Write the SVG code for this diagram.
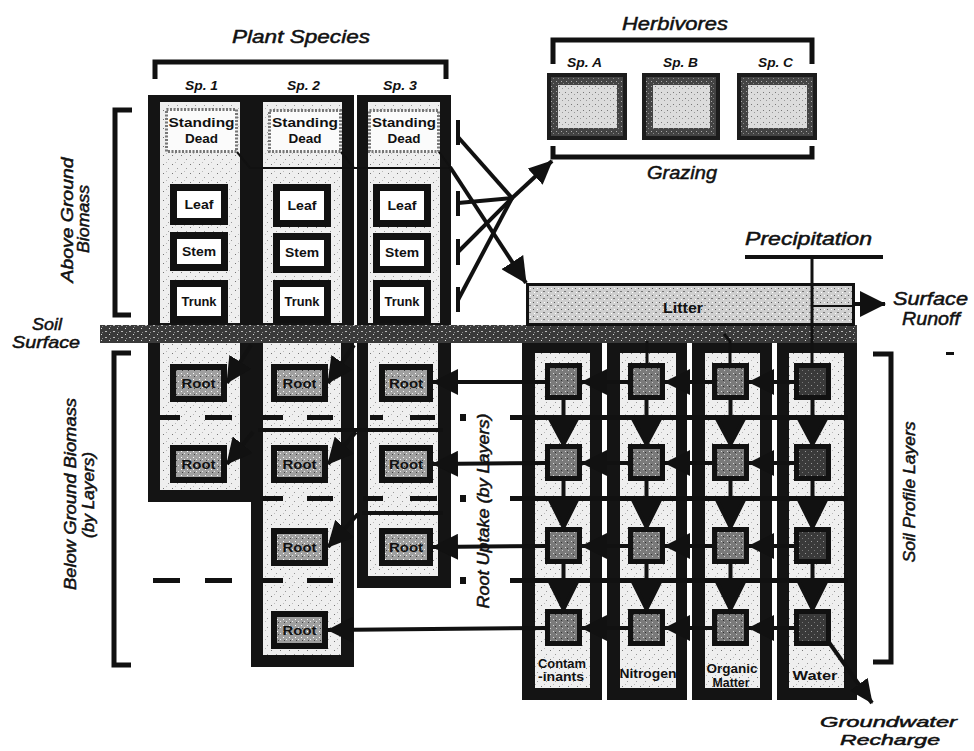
<svg xmlns="http://www.w3.org/2000/svg" width="974" height="751" viewBox="0 0 974 751">
<defs>
<style>
.t{font-family:"Liberation Sans",Arial,sans-serif;font-style:italic;fill:#111;stroke:#111;stroke-width:0.5}
.sp{font-family:"Liberation Sans",Arial,sans-serif;font-style:italic;font-weight:bold;fill:#111;font-size:13px}
.b{font-family:"Liberation Sans",Arial,sans-serif;font-weight:bold;fill:#111;text-anchor:middle}
.dk{fill:#141414}
.conn{stroke:#111;stroke-width:4;fill:none}
.thin{stroke:#111;stroke-width:2;fill:none}
.br{stroke:#111;stroke-width:5;fill:none}
.bx{fill:#fff;stroke:#111;stroke-width:7}
.rt{fill:url(#pRoot);stroke:#111;stroke-width:6}
.sd{fill:#fbfbfb;stroke:#777;stroke-width:3;stroke-dasharray:2 1.5}
.cell{stroke:#111;stroke-width:5}
.lay{fill:#111}
</style>
<pattern id="pLight" width="9" height="9" patternUnits="userSpaceOnUse"><rect width="9" height="9" fill="#efefef"/><rect x="1" y="2" width="1" height="1" fill="#777"/><rect x="6" y="6" width="1" height="1" fill="#999"/><rect x="4" y="0" width="1" height="1" fill="#bbb"/></pattern>
<pattern id="pLitter" width="7" height="7" patternUnits="userSpaceOnUse"><rect width="7" height="7" fill="#cfcfcf"/><rect x="1" y="1" width="1" height="1" fill="#555"/><rect x="4" y="4" width="2" height="1" fill="#777"/><rect x="5" y="1" width="1" height="1" fill="#fff"/><rect x="2" y="5" width="1" height="1" fill="#fff"/></pattern>
<pattern id="pSoil" width="8" height="6" patternUnits="userSpaceOnUse"><rect width="8" height="6" fill="#3a3a3a"/><rect x="1" y="1" width="2" height="1" fill="#bbb"/><rect x="5" y="4" width="1" height="1" fill="#ddd"/><rect x="6" y="2" width="1" height="1" fill="#888"/></pattern>
<pattern id="pRoot" width="6" height="6" patternUnits="userSpaceOnUse"><rect width="6" height="6" fill="#a0a0a0"/><rect x="1" y="1" width="1" height="1" fill="#fff"/><rect x="4" y="3" width="1" height="1" fill="#eee"/><rect x="2" y="4" width="1" height="1" fill="#444"/></pattern>
<pattern id="pCell" width="6" height="6" patternUnits="userSpaceOnUse"><rect width="6" height="6" fill="#7a7a7a"/><rect x="1" y="1" width="1" height="1" fill="#ddd"/><rect x="4" y="4" width="1" height="1" fill="#ccc"/><rect x="3" y="2" width="1" height="1" fill="#333"/></pattern>
<pattern id="pWater" width="6" height="6" patternUnits="userSpaceOnUse"><rect width="6" height="6" fill="#3a3a3a"/><rect x="1" y="1" width="1" height="1" fill="#999"/><rect x="4" y="4" width="1" height="1" fill="#777"/></pattern>
<pattern id="pHerb" width="6" height="6" patternUnits="userSpaceOnUse"><rect width="6" height="6" fill="#dcdcdc"/><rect x="1" y="2" width="1" height="1" fill="#777"/><rect x="4" y="4" width="1" height="1" fill="#999"/></pattern>
<pattern id="pRing" width="5" height="5" patternUnits="userSpaceOnUse"><rect width="5" height="5" fill="#444"/><rect x="1" y="1" width="1" height="1" fill="#aaa"/><rect x="3" y="3" width="1" height="1" fill="#888"/></pattern>
<marker id="ah" markerUnits="userSpaceOnUse" markerWidth="26" markerHeight="26" viewBox="0 0 26 26" refX="25" refY="13" orient="auto"><path d="M0,0 L26,13 L0,26 z" fill="#111"/></marker>
<marker id="ahs" markerUnits="userSpaceOnUse" markerWidth="24" markerHeight="22" viewBox="0 0 24 22" refX="23" refY="11" orient="auto"><path d="M0,0 L24,11 L0,22 z" fill="#111"/></marker>
</defs>
<rect width="974" height="751" fill="#fff"/>

<!-- headings -->
<text class="t" x="232" y="43" font-size="19" textLength="138" lengthAdjust="spacingAndGlyphs">Plant Species</text>
<path class="br" d="M155,79 V62 H446 V79"/>
<text class="sp" x="185" y="90" textLength="33" lengthAdjust="spacingAndGlyphs">Sp. 1</text>
<text class="sp" x="287" y="90" textLength="33" lengthAdjust="spacingAndGlyphs">Sp. 2</text>
<text class="sp" x="383" y="90" textLength="34" lengthAdjust="spacingAndGlyphs">Sp. 3</text>

<text class="t" x="622" y="30" font-size="19" textLength="106" lengthAdjust="spacingAndGlyphs">Herbivores</text>
<path class="br" d="M553,64 V40 H812 V64"/>
<path class="br" d="M553,146 V157 H812 V146"/>
<text class="sp" x="567" y="67" textLength="35" lengthAdjust="spacingAndGlyphs">Sp. A</text>
<text class="sp" x="663" y="67" textLength="35" lengthAdjust="spacingAndGlyphs">Sp. B</text>
<text class="sp" x="758" y="67" textLength="35" lengthAdjust="spacingAndGlyphs">Sp. C</text>
<text class="t" x="647" y="179" font-size="19" textLength="70" lengthAdjust="spacingAndGlyphs">Grazing</text>

<!-- side labels -->
<path class="br" d="M132,110 H115 V315 H131"/>
<text class="t" font-size="16" text-anchor="middle" transform="translate(73,220) rotate(-90)" textLength="125" lengthAdjust="spacingAndGlyphs">Above Ground</text>
<text class="t" font-size="16" text-anchor="middle" transform="translate(89,219) rotate(-90)" textLength="68" lengthAdjust="spacingAndGlyphs">Biomass</text>
<text class="t" x="32" y="330" font-size="17" textLength="30" lengthAdjust="spacingAndGlyphs">Soil</text>
<text class="t" x="12" y="348" font-size="17" textLength="68" lengthAdjust="spacingAndGlyphs">Surface</text>
<path class="br" d="M131,353 H114 V665 H131"/>
<text class="t" font-size="16" text-anchor="middle" transform="translate(76,494) rotate(-90)" textLength="192" lengthAdjust="spacingAndGlyphs">Below Ground Biomass</text>
<text class="t" font-size="16" text-anchor="middle" transform="translate(94,495) rotate(-90)" textLength="86" lengthAdjust="spacingAndGlyphs">(by Layers)</text>
<text class="t" font-size="16" text-anchor="middle" transform="translate(489,511) rotate(-90)" textLength="195" lengthAdjust="spacingAndGlyphs">Root Uptake (by Layers)</text>
<path class="br" d="M873,354 H891 V662 H873"/>
<text class="t" font-size="16" text-anchor="middle" transform="translate(915,492) rotate(-90)" textLength="141" lengthAdjust="spacingAndGlyphs">Soil Profile Layers</text>
<rect x="946" y="352" width="8" height="3" fill="#111"/>

<!-- plant species columns -->
<g id="sp1">
<rect class="dk" x="148" y="95" width="103" height="407"/>
<rect x="160" y="102" width="80" height="221" fill="url(#pLight)"/>
<rect x="160" y="343" width="80" height="147" fill="url(#pLight)"/>
<rect class="sd" x="166.5" y="109.5" width="70" height="42"/>
<text class="b" x="201.5" y="127" font-size="13.5" textLength="66" lengthAdjust="spacingAndGlyphs">Standing</text>
<text class="b" x="201.5" y="143" font-size="13.5" textLength="33" lengthAdjust="spacingAndGlyphs">Dead</text>
<rect class="bx" x="173.5" y="187.5" width="51" height="34"/>
<text class="b" x="199" y="209" font-size="12.5" textLength="29" lengthAdjust="spacingAndGlyphs">Leaf</text>
<rect class="bx" x="173.5" y="235.5" width="51" height="32"/>
<text class="b" x="199" y="256" font-size="12.5" textLength="34" lengthAdjust="spacingAndGlyphs">Stem</text>
<rect class="bx" x="173.5" y="283.5" width="51" height="36"/>
<text class="b" x="199" y="306" font-size="12.5" textLength="35" lengthAdjust="spacingAndGlyphs">Trunk</text>
<rect class="rt" x="173" y="367" width="51" height="32"/>
<text class="b" x="198.5" y="388" font-size="13" textLength="34" lengthAdjust="spacingAndGlyphs">Root</text>
<rect class="rt" x="173" y="448" width="51" height="32"/>
<text class="b" x="198.5" y="469" font-size="13" textLength="34" lengthAdjust="spacingAndGlyphs">Root</text>
</g>

<g id="sp2">
<rect class="dk" x="251" y="95" width="103" height="572"/>
<rect x="263" y="102" width="79" height="221" fill="url(#pLight)"/>
<rect x="263" y="343" width="78" height="312" fill="url(#pLight)"/>
<rect class="sd" x="269.5" y="110.5" width="71" height="41"/>
<text class="b" x="305" y="127" font-size="13.5" textLength="66" lengthAdjust="spacingAndGlyphs">Standing</text>
<text class="b" x="305" y="143" font-size="13.5" textLength="33" lengthAdjust="spacingAndGlyphs">Dead</text>
<rect class="bx" x="276.5" y="187.5" width="51" height="36"/>
<text class="b" x="302" y="210" font-size="12.5" textLength="29" lengthAdjust="spacingAndGlyphs">Leaf</text>
<rect class="bx" x="276.5" y="236.5" width="51" height="33"/>
<text class="b" x="302" y="257" font-size="12.5" textLength="34" lengthAdjust="spacingAndGlyphs">Stem</text>
<rect class="bx" x="276.5" y="283.5" width="51" height="36"/>
<text class="b" x="302" y="306" font-size="12.5" textLength="35" lengthAdjust="spacingAndGlyphs">Trunk</text>
<rect class="rt" x="274" y="367" width="51" height="32"/>
<text class="b" x="299.5" y="388" font-size="13" textLength="34" lengthAdjust="spacingAndGlyphs">Root</text>
<rect class="rt" x="274" y="448" width="51" height="32"/>
<text class="b" x="299.5" y="469" font-size="13" textLength="34" lengthAdjust="spacingAndGlyphs">Root</text>
<rect class="rt" x="274" y="531" width="51" height="32"/>
<text class="b" x="299.5" y="552" font-size="13" textLength="34" lengthAdjust="spacingAndGlyphs">Root</text>
<rect class="rt" x="274" y="614" width="51" height="32"/>
<text class="b" x="299.5" y="635" font-size="13" textLength="34" lengthAdjust="spacingAndGlyphs">Root</text>
</g>

<g id="sp3">
<rect class="dk" x="357" y="95" width="94" height="493"/>
<rect x="368" y="102" width="72" height="221" fill="url(#pLight)"/>
<rect x="368" y="343" width="70" height="233" fill="url(#pLight)"/>
<rect class="sd" x="369.5" y="110.5" width="69" height="41"/>
<text class="b" x="404" y="127" font-size="13.5" textLength="64" lengthAdjust="spacingAndGlyphs">Standing</text>
<text class="b" x="404" y="143" font-size="13.5" textLength="33" lengthAdjust="spacingAndGlyphs">Dead</text>
<rect class="bx" x="376.5" y="187.5" width="51" height="36"/>
<text class="b" x="402" y="210" font-size="12.5" textLength="29" lengthAdjust="spacingAndGlyphs">Leaf</text>
<rect class="bx" x="376.5" y="236.5" width="51" height="33"/>
<text class="b" x="402" y="257" font-size="12.5" textLength="34" lengthAdjust="spacingAndGlyphs">Stem</text>
<rect class="bx" x="376.5" y="283.5" width="51" height="36"/>
<text class="b" x="402" y="306" font-size="12.5" textLength="35" lengthAdjust="spacingAndGlyphs">Trunk</text>
<rect class="rt" x="382" y="367" width="48" height="32"/>
<text class="b" x="406" y="388" font-size="13" textLength="34" lengthAdjust="spacingAndGlyphs">Root</text>
<rect class="rt" x="382" y="448" width="48" height="32"/>
<text class="b" x="406" y="469" font-size="13" textLength="34" lengthAdjust="spacingAndGlyphs">Root</text>
<rect class="rt" x="382" y="531" width="48" height="32"/>
<text class="b" x="406" y="552" font-size="13" textLength="34" lengthAdjust="spacingAndGlyphs">Root</text>
</g>

<!-- panel separators -->
<rect class="lay" x="258" y="428" width="185" height="4"/>
<rect class="lay" x="362" y="511" width="81" height="4"/>

<!-- herbivores -->
<g id="herbA"><rect x="547" y="73" width="80" height="67" fill="#1c1c1c"/><rect x="551" y="77" width="72" height="59" fill="url(#pRing)"/><rect x="558" y="85" width="59" height="43" fill="url(#pHerb)"/></g>
<g id="herbB"><rect x="642" y="73" width="78" height="67" fill="#1c1c1c"/><rect x="646" y="77" width="70" height="59" fill="url(#pRing)"/><rect x="653" y="85" width="57" height="43" fill="url(#pHerb)"/></g>
<g id="herbC"><rect x="737" y="73" width="80" height="67" fill="#1c1c1c"/><rect x="741" y="77" width="72" height="59" fill="url(#pRing)"/><rect x="748" y="85" width="59" height="43" fill="url(#pHerb)"/></g>

<!-- soil columns -->
<g id="col-contam"><rect class="dk" x="522" y="342" width="80" height="358"/><rect x="535" y="353" width="55" height="335" fill="url(#pLight)"/></g>
<g id="col-nitrogen"><rect class="dk" x="607" y="342" width="80" height="358"/><rect x="620" y="353" width="56" height="335" fill="url(#pLight)"/></g>
<g id="col-organic"><rect class="dk" x="692" y="342" width="80" height="358"/><rect x="705" y="353" width="55" height="335" fill="url(#pLight)"/></g>
<g id="col-water"><rect class="dk" x="777" y="342" width="80" height="358"/><rect x="789" y="353" width="55" height="335" fill="url(#pLight)"/></g>

<!-- soil surface band and litter -->
<rect id="soil-surface" x="100" y="325" width="757" height="18" fill="url(#pSoil)"/>
<g id="litter">
<rect x="527.5" y="284.5" width="326" height="40" fill="url(#pLitter)" stroke="#111" stroke-width="3"/>
<line class="thin" x1="812" y1="306" x2="854" y2="306"/>
<text class="b" x="683" y="313" font-size="15" textLength="40" lengthAdjust="spacingAndGlyphs">Litter</text>
</g>

<!-- layer boundaries -->
<g id="layers" class="lay">
<rect x="160" y="415" width="20" height="5"/><rect x="205" y="415" width="27" height="5"/><rect x="263" y="415" width="20" height="5"/><rect x="307" y="415" width="26" height="5"/><rect x="370" y="415" width="13" height="5"/><rect x="410" y="415" width="25" height="5"/><rect x="460" y="414" width="6" height="7"/><rect x="510" y="415" width="338" height="5"/>
<rect x="263" y="496" width="20" height="5"/><rect x="307" y="496" width="26" height="5"/><rect x="363" y="496" width="20" height="5"/><rect x="410" y="496" width="27" height="5"/><rect x="460" y="495" width="6" height="7"/><rect x="510" y="496" width="338" height="5"/>
<rect x="153" y="578" width="27" height="5"/><rect x="205" y="578" width="27" height="5"/><rect x="263" y="578" width="20" height="5"/><rect x="307" y="578" width="26" height="5"/><rect x="460" y="577" width="6" height="7"/><rect x="510" y="578" width="338" height="5"/>
</g>

<!-- soil cells -->
<g id="contam-cells" fill="url(#pCell)">
<rect class="cell" x="547.5" y="365.5" width="32" height="32"/><rect class="cell" x="547.5" y="446.5" width="32" height="32"/><rect class="cell" x="547.5" y="529.5" width="32" height="32"/><rect class="cell" x="547.5" y="611.5" width="32" height="32"/>
<text class="b" x="562" y="668" font-size="12" textLength="48" lengthAdjust="spacingAndGlyphs">Contam</text>
<text class="b" x="561" y="681" font-size="12" textLength="46" lengthAdjust="spacingAndGlyphs">-inants</text>
</g>
<g id="nitrogen-cells" fill="url(#pCell)">
<rect class="cell" x="630.5" y="365.5" width="32" height="32"/><rect class="cell" x="630.5" y="446.5" width="32" height="32"/><rect class="cell" x="630.5" y="529.5" width="32" height="32"/><rect class="cell" x="630.5" y="611.5" width="32" height="32"/>
<text class="b" x="648" y="678" font-size="12" textLength="57" lengthAdjust="spacingAndGlyphs">Nitrogen</text>
</g>
<g id="organic-cells" fill="url(#pCell)">
<rect class="cell" x="714.5" y="365.5" width="32" height="32"/><rect class="cell" x="714.5" y="446.5" width="32" height="32"/><rect class="cell" x="714.5" y="529.5" width="32" height="32"/><rect class="cell" x="714.5" y="611.5" width="32" height="32"/>
<text class="b" x="732" y="673" font-size="12" textLength="51" lengthAdjust="spacingAndGlyphs">Organic</text>
<text class="b" x="731" y="687" font-size="12" textLength="37" lengthAdjust="spacingAndGlyphs">Matter</text>
</g>
<g id="water-cells" fill="url(#pWater)">
<rect class="cell" x="796.5" y="365.5" width="32" height="32"/><rect class="cell" x="796.5" y="446.5" width="32" height="32"/><rect class="cell" x="796.5" y="529.5" width="32" height="32"/><rect class="cell" x="796.5" y="611.5" width="32" height="32"/>
<text class="b" x="815" y="680" font-size="13" textLength="45" lengthAdjust="spacingAndGlyphs">Water</text>
</g>

<!-- connectors -->
<g id="connectors">
<polyline class="thin" points="237,152 250,168 452,168"/>
<polyline class="thin" points="341,152 354,168"/>
<polyline class="thin" points="439,152 451,168"/>
<line class="conn" x1="450" y1="167" x2="526" y2="283" marker-end="url(#ah)"/>
<g class="conn">
<path d="M458,120 V145 M458,191 V216 M458,239 V265 M458,287 V312"/>
<line x1="458" y1="137" x2="512" y2="198"/>
<line x1="458" y1="203" x2="512" y2="198"/>
<line x1="458" y1="252" x2="512" y2="198"/>
<line x1="458" y1="300" x2="512" y2="198"/>
</g>
<line class="conn" x1="510" y1="200" x2="552" y2="161" marker-end="url(#ahs)"/>
<line class="conn" x1="745" y1="257" x2="883" y2="257"/>
<line x1="812" y1="257" x2="812" y2="366" stroke="#111" stroke-width="3"/>
<line x1="647" y1="341" x2="647" y2="366" stroke="#111" stroke-width="3"/>
<polyline points="724,334 730,341 730,366" fill="none" stroke="#111" stroke-width="3"/>
<line class="conn" x1="854" y1="304" x2="885" y2="304" marker-end="url(#ah)"/>
<line class="conn" x1="546" y1="382" x2="433" y2="382" marker-end="url(#ah)"/>
<line class="conn" x1="546" y1="463" x2="433" y2="464" marker-end="url(#ah)"/>
<line class="conn" x1="546" y1="546" x2="433" y2="547" marker-end="url(#ah)"/>
<line class="conn" x1="546" y1="628" x2="328" y2="630" marker-end="url(#ah)"/>
<line class="conn" x1="354" y1="345" x2="328" y2="383" marker-end="url(#ah)"/>
<line class="conn" x1="251" y1="345" x2="227" y2="383" marker-end="url(#ah)"/>
<line class="conn" x1="356" y1="432" x2="328" y2="464" marker-end="url(#ah)"/>
<line class="conn" x1="253" y1="432" x2="227" y2="464" marker-end="url(#ah)"/>
<line class="conn" x1="358" y1="514" x2="328" y2="547" marker-end="url(#ah)"/>
<g class="conn">
<line x1="796" y1="382" x2="749" y2="382" marker-end="url(#ah)"/>
<line x1="714" y1="382" x2="665" y2="382" marker-end="url(#ah)"/>
<line x1="630" y1="382" x2="582" y2="382" marker-end="url(#ah)"/>
<line x1="796" y1="463" x2="749" y2="463" marker-end="url(#ah)"/>
<line x1="714" y1="463" x2="665" y2="463" marker-end="url(#ah)"/>
<line x1="630" y1="463" x2="582" y2="463" marker-end="url(#ah)"/>
<line x1="796" y1="546" x2="749" y2="546" marker-end="url(#ah)"/>
<line x1="714" y1="546" x2="665" y2="546" marker-end="url(#ah)"/>
<line x1="630" y1="546" x2="582" y2="546" marker-end="url(#ah)"/>
<line x1="796" y1="628" x2="749" y2="628" marker-end="url(#ah)"/>
<line x1="714" y1="628" x2="665" y2="628" marker-end="url(#ah)"/>
<line x1="630" y1="628" x2="582" y2="628" marker-end="url(#ah)"/>
</g>
<g stroke="#111" stroke-width="4" fill="#111">
<line x1="563.5" y1="400" x2="563.5" y2="418"/><polygon points="549,417 578,417 563.5,444"/>
<line x1="563.5" y1="481" x2="563.5" y2="499"/><polygon points="549,498 578,498 563.5,527"/>
<line x1="563.5" y1="564" x2="563.5" y2="581"/><polygon points="549,580 578,580 563.5,609"/>
<line x1="646.5" y1="400" x2="646.5" y2="418"/><polygon points="632,417 661,417 646.5,444"/>
<line x1="646.5" y1="481" x2="646.5" y2="499"/><polygon points="632,498 661,498 646.5,527"/>
<line x1="646.5" y1="564" x2="646.5" y2="581"/><polygon points="632,580 661,580 646.5,609"/>
<line x1="730.5" y1="400" x2="730.5" y2="418"/><polygon points="716,417 745,417 730.5,444"/>
<line x1="730.5" y1="481" x2="730.5" y2="499"/><polygon points="716,498 745,498 730.5,527"/>
<line x1="730.5" y1="564" x2="730.5" y2="581"/><polygon points="716,580 745,580 730.5,609"/>
<line x1="812.5" y1="400" x2="812.5" y2="418"/><polygon points="798,417 827,417 812.5,444"/>
<line x1="812.5" y1="481" x2="812.5" y2="499"/><polygon points="798,498 827,498 812.5,527"/>
<line x1="812.5" y1="564" x2="812.5" y2="581"/><polygon points="798,580 827,580 812.5,609"/>
</g>
<line class="conn" x1="828" y1="641" x2="872" y2="703" marker-end="url(#ahs)"/>
</g>

<text class="t" x="745" y="245" font-size="18" textLength="127" lengthAdjust="spacingAndGlyphs">Precipitation</text>
<text class="t" x="893" y="305" font-size="19" textLength="75" lengthAdjust="spacingAndGlyphs">Surface</text>
<text class="t" x="902" y="325" font-size="19" textLength="58" lengthAdjust="spacingAndGlyphs">Runoff</text>
<text class="t" x="820" y="727" font-size="15" textLength="137" lengthAdjust="spacingAndGlyphs">Groundwater</text>
<text class="t" x="840" y="745" font-size="15" textLength="100" lengthAdjust="spacingAndGlyphs">Recharge</text>
</svg>
